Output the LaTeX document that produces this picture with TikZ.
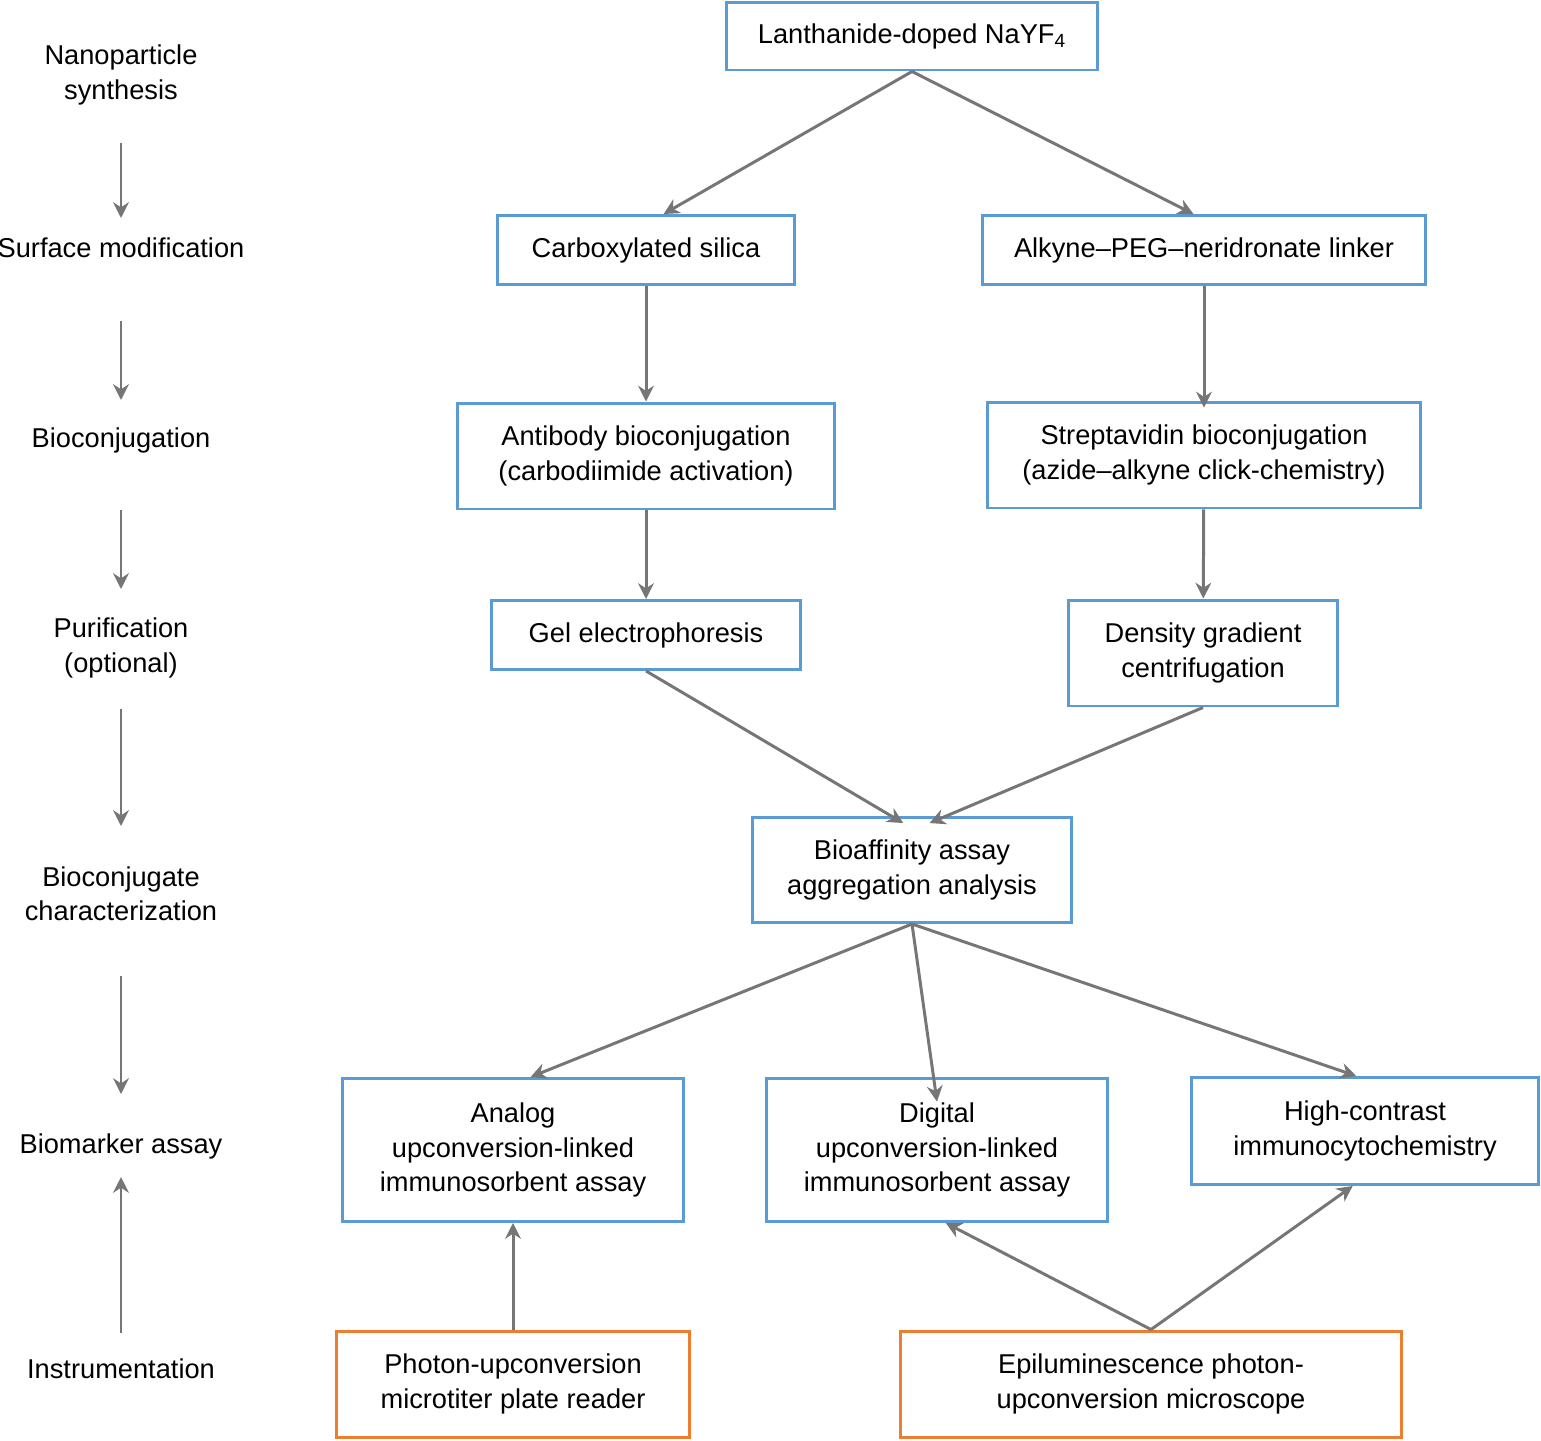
\documentclass[tikz,border=0pt]{standalone}
\usepackage{fontspec}
\setmainfont{Liberation Sans}
\usetikzlibrary{arrows.meta}
\definecolor{boxblue}{RGB}{91,155,213}
\definecolor{boxorange}{RGB}{237,125,49}
\definecolor{arrowgrey}{RGB}{118,118,118}
\begin{document}
\begin{tikzpicture}[x=0.02cm, y=-0.02cm, font=\fontsize{15.5}{19.5}\selectfont]
    \tikzstyle{step_box} = [draw=boxblue, line width=1.7pt, align=center, inner sep=0pt]
    \tikzstyle{instr_box} = [draw=boxorange, line width=1.7pt, align=center, inner sep=0pt]
    \tikzstyle{stage_label} = [align=center]
    \tikzstyle{flow_edge} = [draw=arrowgrey, line width=1.7pt, -{Stealth[length=9pt,width=9pt]}]
    \useasboundingbox (0,0) rectangle (1541,1440);

    % stages
    \node[stage_label] (s1) at (121,75) {Nanoparticle\\synthesis};
    \node[stage_label] (s2) at (121,248) {Surface modification};
    \node[stage_label] (s3) at (121,440) {Bioconjugation};
    \node[stage_label] (s4) at (121,648) {Purification\\(optional)};
    \node[stage_label] (s5) at (121,894) {Bioconjugate\\characterization};
    \node[stage_label] (s6) at (121,1146) {Biomarker assay};
    \node[stage_label] (s7) at (121,1369) {Instrumentation};
    \coordinate (a1) at (121,143); \coordinate (b1) at (121,218);
    \coordinate (a2) at (121,321); \coordinate (b2) at (121,400);
    \coordinate (a3) at (121,510); \coordinate (b3) at (121,589);
    \coordinate (a4) at (121,709); \coordinate (b4) at (121,826);
    \coordinate (a5) at (121,976); \coordinate (b5) at (121,1094);
    \coordinate (a6) at (121,1333); \coordinate (b6) at (121,1177);

    % boxes
    \node[step_box, minimum width=7.44cm, minimum height=1.36cm] (nayf) at (912,36) {Lanthanide-doped NaYF\textsubscript{4}};
    \node[step_box, minimum width=5.96cm, minimum height=1.38cm] (silica) at (646,250) {Carboxylated silica};
    \node[step_box, minimum width=8.86cm, minimum height=1.38cm] (linker) at (1204,250) {Alkyne–PEG–neridronate linker};
    \node[step_box, minimum width=7.56cm, minimum height=2.12cm] (antibody) at (646,456) {Antibody bioconjugation\\(carbodiimide activation)};
    \node[step_box, minimum width=8.66cm, minimum height=2.12cm] (strept) at (1204,455) {Streptavidin bioconjugation\\(azide–alkyne click-chemistry)};
    \node[step_box, minimum width=6.18cm, minimum height=1.38cm] (gel) at (646,635) {Gel electrophoresis};
    \node[step_box, minimum width=5.38cm, minimum height=2.12cm] (density) at (1203,653) {Density gradient\\centrifugation};
    \node[step_box, minimum width=6.4cm, minimum height=2.1cm] (affinity) at (912,870) {Bioaffinity assay\\aggregation analysis};
    \node[step_box, minimum width=6.82cm, minimum height=2.86cm] (analog) at (513,1150) {Analog\\upconversion-linked\\immunosorbent assay};
    \node[step_box, minimum width=6.82cm, minimum height=2.86cm] (digital) at (937,1150) {Digital\\upconversion-linked\\immunosorbent assay};
    \node[step_box, minimum width=6.94cm, minimum height=2.14cm] (icc) at (1365,1131) {High-contrast\\immunocytochemistry};
    \node[instr_box, minimum width=7.06cm, minimum height=2.12cm] (reader) at (513,1384) {Photon-upconversion\\microtiter plate reader};
    \node[instr_box, minimum width=10.02cm, minimum height=2.12cm] (scope) at (1151,1384) {Epiluminescence photon-\\upconversion microscope};

    % stage arrows
    \draw[flow_edge] (a1) -- (b1);
    \draw[flow_edge] (a2) -- (b2);
    \draw[flow_edge] (a3) -- (b3);
    \draw[flow_edge] (a4) -- (b4);
    \draw[flow_edge] (a5) -- (b5);
    \draw[flow_edge] (a6) -- (b6);

    % flow arrows
    \draw[flow_edge] (nayf.south) -- ([xshift=10]silica.north);
    \draw[flow_edge] (nayf.south) -- ([xshift=-6]linker.north);
    \draw[flow_edge] (silica) -- (antibody);
    \draw[flow_edge] (linker) -- ([yshift=-4]strept.north);
    \draw[flow_edge] (antibody) -- (gel);
    \draw[flow_edge] (strept) -- (density);
    \draw[flow_edge] (gel.south) -- ([xshift=-5,yshift=-4]affinity.north);
    \draw[flow_edge] (density.south) -- ([xshift=10,yshift=-4]affinity.north);
    \draw[flow_edge] (affinity.south) -- ([xshift=10]analog.north);
    \draw[flow_edge] (affinity.south) -- ([xshift=0,yshift=-14]digital.north);
    \draw[flow_edge] (affinity.south) -- ([xshift=-5]icc.north);
    \draw[flow_edge] (reader) -- (analog);
    \draw[flow_edge] (scope.north) -- ([xshift=5]digital.south);
    \draw[flow_edge] (scope.north) -- ([xshift=-7]icc.south);
\end{tikzpicture}
\end{document}
